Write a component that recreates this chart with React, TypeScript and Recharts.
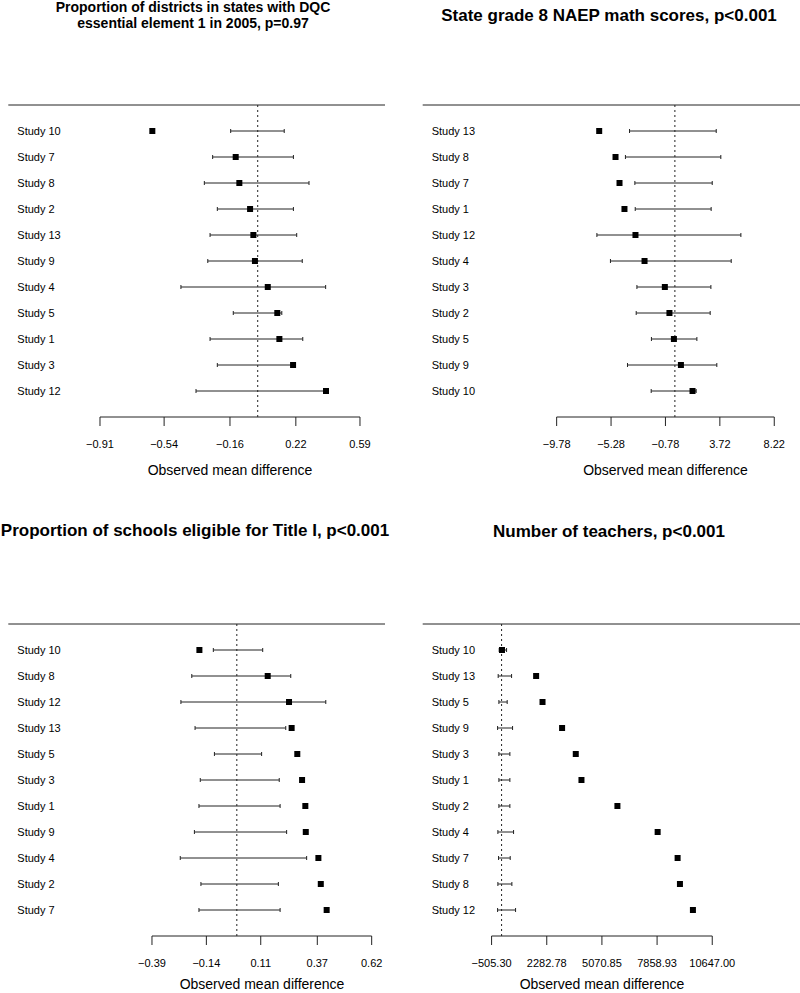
import { ErrorBar, ReferenceLine, Scatter, ScatterChart, XAxis, YAxis } from "recharts";

const FONT = '"Liberation Sans", Arial, Helvetica, sans-serif';

// DQC element 1
const dqcStudies = ["Study 10", "Study 7", "Study 8", "Study 2", "Study 13", "Study 9", "Study 4", "Study 5", "Study 1", "Study 3", "Study 12"];
const dqcMeans = [-0.608, -0.127, -0.106, -0.044, -0.025, -0.016, 0.058, 0.113, 0.125, 0.204, 0.394];
const dqcLow = [-0.156, -0.26, -0.308, -0.233, -0.275, -0.288, -0.443, -0.141, -0.275, -0.233, -0.356];
const dqcHigh = [0.153, 0.206, 0.296, 0.206, 0.225, 0.257, 0.392, 0.139, 0.26, 0.206, 0.394];
const dqcTicks = [-0.91, -0.54, -0.16, 0.22, 0.59];

// NAEP math
const naepStudies = ["Study 13", "Study 8", "Study 7", "Study 1", "Study 12", "Study 4", "Study 3", "Study 2", "Study 5", "Study 9", "Study 10"];
const naepMeans = [-6.26, -4.91, -4.58, -4.17, -3.26, -2.51, -0.83, -0.45, -0.08, 0.5, 1.46];
const naepLow = [-3.75, -4.09, -3.31, -3.28, -6.45, -5.33, -3.14, -3.2, -1.94, -3.92, -1.96];
const naepHigh = [3.42, 3.8, 3.09, 3.0, 5.46, 4.66, 2.98, 2.92, 1.82, 3.47, 1.76];
const naepTicks = [-9.78, -5.28, -0.78, 3.72, 8.22];

// Title I
const titleStudies = ["Study 10", "Study 8", "Study 12", "Study 13", "Study 5", "Study 3", "Study 1", "Study 9", "Study 4", "Study 2", "Study 7"];
const titleMeans = [-0.172, 0.142, 0.24, 0.252, 0.278, 0.3, 0.315, 0.317, 0.375, 0.386, 0.413];
const titleLow = [-0.108, -0.207, -0.257, -0.192, -0.103, -0.168, -0.174, -0.195, -0.26, -0.165, -0.174];
const titleHigh = [0.119, 0.248, 0.409, 0.225, 0.114, 0.195, 0.199, 0.229, 0.321, 0.191, 0.199];
const titleTicks = [-0.39, -0.14, 0.11, 0.37, 0.62];

// teachers
const teachStudies = ["Study 10", "Study 13", "Study 5", "Study 9", "Study 3", "Study 1", "Study 2", "Study 4", "Study 7", "Study 8", "Study 12"];
const teachMeans = [20, 1746, 2069, 3058, 3749, 4037, 5854, 7887, 8896, 9014, 9670];
const teachLow = [-121, -172, -136, -202, -136, -136, -136, -187, -153, -187, -202];
const teachHigh = [252, 505, 283, 555, 419, 419, 419, 606, 436, 520, 707];
const teachTicks = [-505.3, 2282.78, 5070.85, 7858.93, 10647.0];

const fmt = (v: number) => v.toFixed(2).replace("-", "\u2212");

interface PanelProps {
  studies: string[];
  means: number[];
  low: number[];
  high: number[];
  ticks: number[];
  domain: [number, number];
  left: number;
  top: number;
  height: number;
  margin: { top: number; right: number; left: number; bottom: number };
}

function ForestPanel({ studies, means, low, high, ticks, domain, left, top, height, margin }: PanelProps) {
  const n = studies.length;
  const points = means.map((m, i) => ({ x: m, y: n - i }));
  const bars = low.map((lo, i) => {
    const mid = (lo + high[i]) / 2;
    return { x: mid, y: n - i, err: [mid - lo, high[i] - mid] };
  });
  const rows = studies.map((_, i) => i + 1);

  const StudyTick = (props: any) => (
    <text x={props.x + 9} y={props.y} dy="0.35em" textAnchor="start" fontSize={11} fontFamily={FONT} fill="#000">
      {studies[n - props.payload.value]}
    </text>
  );

  return (
    <div style={{ position: "absolute", left, top }}>
      <ScatterChart width={400} height={height} margin={margin}>
        <XAxis
          type="number"
          dataKey="x"
          domain={domain}
          allowDataOverflow
          ticks={ticks}
          interval={0}
          axisLine={false}
          tickLine={{ stroke: "#222" }}
          tickSize={9}
          tickMargin={14}
          height={40}
          tick={{ fontSize: 11, fill: "#000", fontFamily: FONT }}
          tickFormatter={fmt}
        />
        {/* width must be > 0 or the axis is not drawn */}
        <YAxis
          type="number"
          dataKey="y"
          domain={[0, n + 1]}
          allowDataOverflow
          ticks={rows}
          interval={0}
          width={1}
          tickSize={0}
          tickMargin={0}
          axisLine={false}
          tickLine={false}
          tick={StudyTick}
        />
        <ReferenceLine y={n + 1} stroke="#222" strokeWidth={1} />
        <ReferenceLine
          segment={[{ x: ticks[0], y: 0 }, { x: ticks[ticks.length - 1], y: 0 }]}
          stroke="#222"
          strokeWidth={1}
        />
        <ReferenceLine x={0} stroke="#222" strokeDasharray="2 3" />
        <Scatter data={bars} shape={() => <g />} isAnimationActive={false}>
          <ErrorBar dataKey="err" direction="x" width={2} stroke="#222" strokeWidth={1} />
        </Scatter>
        <Scatter
          data={points}
          isAnimationActive={false}
          shape={(p: any) => <rect x={p.cx - 3} y={p.cy - 3} width={6} height={6} fill="#000" />}
        />
      </ScatterChart>
    </div>
  );
}

export default function App() {
  const titleStyle = { fontFamily: FONT, fontWeight: 700, fill: "#000" } as const;
  return (
    <div style={{ position: "absolute", left: 0, top: 0, width: 800, height: 993, background: "#fff", overflow: "hidden" }}>
      <ForestPanel
        studies={dqcStudies}
        means={dqcMeans}
        low={dqcLow}
        high={dqcHigh}
        ticks={dqcTicks}
        domain={[-1.439, 0.7344]}
        left={0}
        top={0}
        height={490}
        margin={{ top: 105, right: 15, left: 7.3, bottom: 33 }}
      />
      <ForestPanel
        studies={naepStudies}
        means={naepMeans}
        low={naepLow}
        high={naepHigh}
        ticks={naepTicks}
        domain={[-20.86, 10.35]}
        left={400}
        top={0}
        height={490}
        margin={{ top: 105, right: 0, left: 21.7, bottom: 33 }}
      />
      <ForestPanel
        studies={titleStudies}
        means={titleMeans}
        low={titleLow}
        high={titleHigh}
        ticks={titleTicks}
        domain={[-1.0505, 0.6812]}
        left={0}
        top={519}
        height={474}
        margin={{ top: 105, right: 15, left: 7.3, bottom: 17 }}
      />
      <ForestPanel
        studies={teachStudies}
        means={teachMeans}
        low={teachLow}
        high={teachHigh}
        ticks={teachTicks}
        domain={[-3987, 15082]}
        left={400}
        top={519}
        height={474}
        margin={{ top: 105, right: 0, left: 21.7, bottom: 17 }}
      />
      <svg width={800} height={993} style={{ position: "absolute", left: 0, top: 0, pointerEvents: "none" }}>
        <text x={193} y={12} textAnchor="middle" fontSize={14} {...titleStyle}>
          Proportion of districts in states with DQC
        </text>
        <text x={193} y={28} textAnchor="middle" fontSize={14} {...titleStyle}>
          essential element 1 in 2005, p=0.97
        </text>
        <text x={609} y={20.5} textAnchor="middle" fontSize={17} {...titleStyle}>
          State grade 8 NAEP math scores, p&lt;0.001
        </text>
        <text x={195} y={536} textAnchor="middle" fontSize={17} {...titleStyle}>
          Proportion of schools eligible for Title I, p&lt;0.001
        </text>
        <text x={609} y={537} textAnchor="middle" fontSize={17} {...titleStyle}>
          Number of teachers, p&lt;0.001
        </text>
        {[
          [230, 474.5],
          [665.5, 474.5],
          [262, 989],
          [602, 989],
        ].map(([x, y], i) => (
          <text key={i} x={x} y={y} textAnchor="middle" fontSize={14} fontFamily={FONT} fill="#000">
            Observed mean difference
          </text>
        ))}
      </svg>
    </div>
  );
}
